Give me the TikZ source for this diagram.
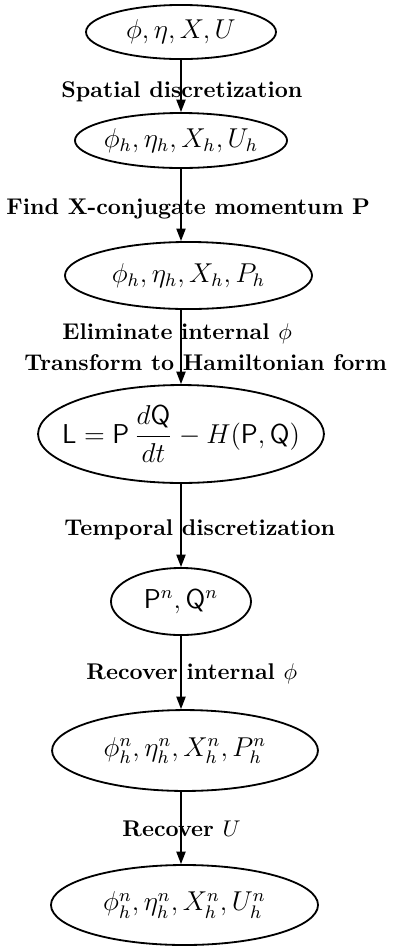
\documentclass[tikz,border=0pt]{standalone}
\usepackage{amsmath}
\usetikzlibrary{shapes.geometric, arrows.meta}

\begin{document}
\begin{tikzpicture}[x=0.44pt,y=-0.44pt,
  state/.style={ellipse,draw,thick,inner xsep=-12pt,inner ysep=0pt,font=\large},
  flow/.style={thick,-{Triangle[length=5.5pt,width=4pt]}},
  lab/.style={anchor=base west,inner sep=0pt,font=\bfseries}]
  \useasboundingbox (0,0) rectangle (393,946);
  \node[state,minimum width=83.6pt,minimum height=23.8pt] (n1) at (181,32) {$\phi, \eta, X, U$};
  \node[state,minimum width=93.3pt,minimum height=24.2pt] (n2) at (181,140.5) {$\phi_h, \eta_h, X_h, U_h$};
  \node[state,minimum width=108.7pt,minimum height=29.5pt] (n3) at (188.5,275.5) {$\phi_h, \eta_h, X_h, P_h$};
  \node[state,minimum width=125.8pt,minimum height=43.1pt] (n4) at (181,434) {$\mathsf{L} = \mathsf{P}\,\dfrac{d\mathsf{Q}}{dt} - H(\mathsf{P}, \mathsf{Q})$};
  \node[state,minimum width=61.6pt,minimum height=29.5pt] (n5) at (181,601.5) {$\mathsf{P}^n, \mathsf{Q}^n$};
  \node[state,minimum width=117pt,minimum height=35.6pt] (n6) at (185,750.5) {$\phi^n_h, \eta^n_h, X^n_h, P^n_h$};
  \node[state,minimum width=117.5pt,minimum height=35.2pt] (n7) at (184.5,905) {$\phi^n_h, \eta^n_h, X^n_h, U^n_h$};
  \draw[flow] (n1) -- (n2);
  \draw[flow] (n2) -- (n2 |- n3.north);
  \draw[flow] (n4 |- n3.south) -- (n4);
  \draw[flow] (n4) -- (n5);
  \draw[flow] (n5) -- (n5 |- n6.north);
  \draw[flow] (n5 |- n6.south) -- (n5 |- n7.north);
  \node[lab] (l1) at (61,97) {Spatial discretization};
  \node[lab] (l2) at (6,214) {Find X-conjugate momentum P};
  \node[lab] (l3) at (62,339) {Eliminate internal $\phi$};
  \node[lab] (l3b) at (24,370) {Transform to Hamiltonian form};
  \node[lab] (l4) at (64,535) {Temporal discretization};
  \node[lab] (l5) at (86,679) {Recover internal $\phi$};
  \node[lab] (l6) at (122,836) {Recover $U$};
\end{tikzpicture}
\end{document}
